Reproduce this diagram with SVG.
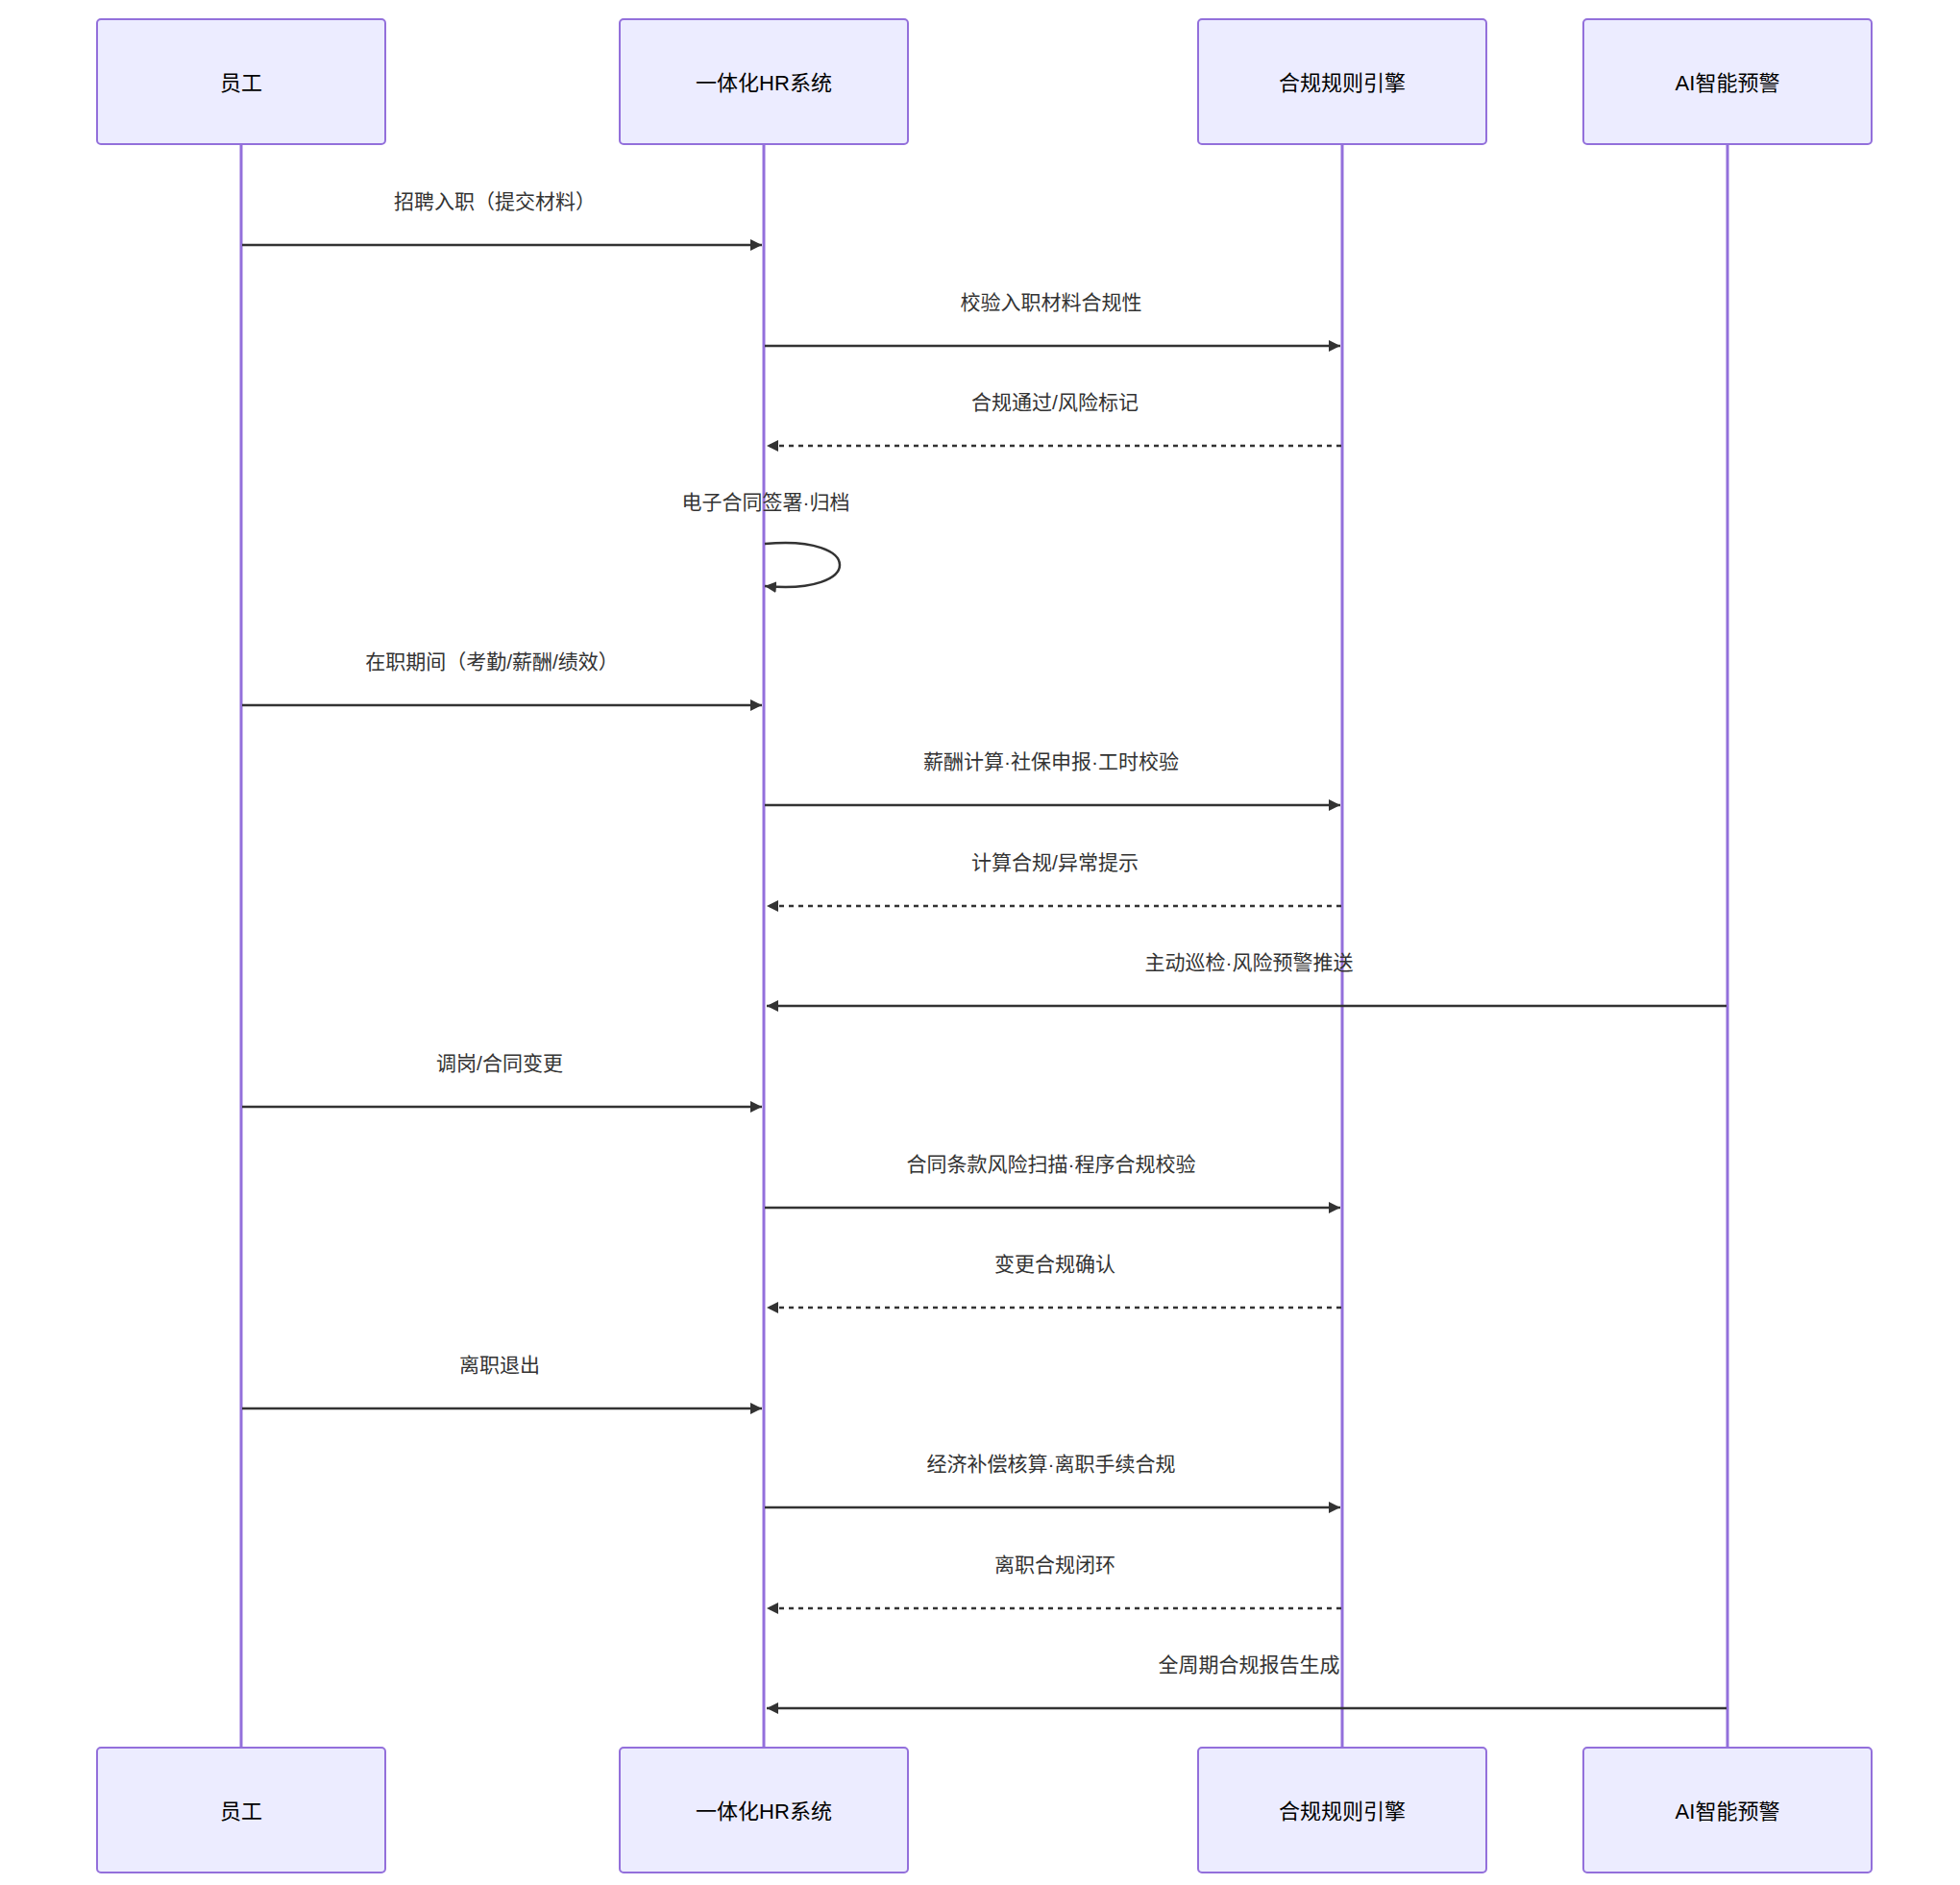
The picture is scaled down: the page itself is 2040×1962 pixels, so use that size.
<svg xmlns="http://www.w3.org/2000/svg" width="2040" height="1962" viewBox="0 0 2040 1962">
<style>
.box{fill:#ECECFF;stroke:#9370DB;stroke-width:2}
.life{stroke:#9370DB;stroke-width:3}
.t{font-family:"Liberation Sans","Noto Sans CJK SC",sans-serif;font-size:21px;fill:#333;text-anchor:middle}
.a{font-size:22px;fill:#000}
.m{stroke:#333;stroke-width:2.5;fill:none}
.d{stroke-dasharray:5,5}
</style>
<defs>
<marker id="ah" viewBox="0 0 12 12" refX="12" refY="6" markerWidth="12" markerHeight="12" markerUnits="userSpaceOnUse" orient="auto"><path d="M0,0L12,6L0,12z" fill="#333"/></marker>
</defs>
<g id="lifelines">
<line class="life" x1="251" y1="150" x2="251" y2="1819"/>
<line class="life" x1="795" y1="150" x2="795" y2="1819"/>
<line class="life" x1="1397" y1="150" x2="1397" y2="1819"/>
<line class="life" x1="1798" y1="150" x2="1798" y2="1819"/>
</g>
<g id="a1"><rect class="box" x="101" y="20" width="300" height="130" rx="4"/><text class="t a" x="251" y="94">员工</text></g>
<g id="a2"><rect class="box" x="645" y="20" width="300" height="130" rx="4"/><text class="t a" x="795" y="94">一体化HR系统</text></g>
<g id="a3"><rect class="box" x="1247" y="20" width="300" height="130" rx="4"/><text class="t a" x="1397" y="94">合规规则引擎</text></g>
<g id="a4"><rect class="box" x="1648" y="20" width="300" height="130" rx="4"/><text class="t a" x="1798" y="94">AI智能预警</text></g>
<g id="b1"><rect class="box" x="101" y="1819" width="300" height="130" rx="4"/><text class="t a" x="251" y="1893">员工</text></g>
<g id="b2"><rect class="box" x="645" y="1819" width="300" height="130" rx="4"/><text class="t a" x="795" y="1893">一体化HR系统</text></g>
<g id="b3"><rect class="box" x="1247" y="1819" width="300" height="130" rx="4"/><text class="t a" x="1397" y="1893">合规规则引擎</text></g>
<g id="b4"><rect class="box" x="1648" y="1819" width="300" height="130" rx="4"/><text class="t a" x="1798" y="1893">AI智能预警</text></g>
<g id="connectors">
<line class="m" x1="252" y1="255" x2="793" y2="255" marker-end="url(#ah)"/>
<line class="m" x1="796" y1="360" x2="1395" y2="360" marker-end="url(#ah)"/>
<line class="m d" x1="1396" y1="464" x2="798" y2="464" marker-end="url(#ah)"/>
<path class="m" d="M796,566 C900,556 900,620 796,610" marker-end="url(#ah)"/>
<line class="m" x1="252" y1="734" x2="793" y2="734" marker-end="url(#ah)"/>
<line class="m" x1="796" y1="838" x2="1395" y2="838" marker-end="url(#ah)"/>
<line class="m d" x1="1396" y1="943" x2="798" y2="943" marker-end="url(#ah)"/>
<line class="m" x1="1797" y1="1047" x2="798" y2="1047" marker-end="url(#ah)"/>
<line class="m" x1="252" y1="1152" x2="793" y2="1152" marker-end="url(#ah)"/>
<line class="m" x1="796" y1="1257" x2="1395" y2="1257" marker-end="url(#ah)"/>
<line class="m d" x1="1396" y1="1361" x2="798" y2="1361" marker-end="url(#ah)"/>
<line class="m" x1="252" y1="1466" x2="793" y2="1466" marker-end="url(#ah)"/>
<line class="m" x1="796" y1="1569" x2="1395" y2="1569" marker-end="url(#ah)"/>
<line class="m d" x1="1396" y1="1674" x2="798" y2="1674" marker-end="url(#ah)"/>
<line class="m" x1="1797" y1="1778" x2="798" y2="1778" marker-end="url(#ah)"/>
</g>
<g id="labels">
<text class="t" x="515" y="217">招聘入职（提交材料）</text>
<text class="t" x="1094" y="322">校验入职材料合规性</text>
<text class="t" x="1098" y="426">合规通过/风险标记</text>
<text class="t" x="797" y="530">电子合同签署·归档</text>
<text class="t" x="512" y="696">在职期间（考勤/薪酬/绩效）</text>
<text class="t" x="1094" y="800">薪酬计算·社保申报·工时校验</text>
<text class="t" x="1098" y="905">计算合规/异常提示</text>
<text class="t" x="1300" y="1009">主动巡检·风险预警推送</text>
<text class="t" x="520" y="1114">调岗/合同变更</text>
<text class="t" x="1094" y="1219">合同条款风险扫描·程序合规校验</text>
<text class="t" x="1098" y="1323">变更合规确认</text>
<text class="t" x="520" y="1428">离职退出</text>
<text class="t" x="1094" y="1531">经济补偿核算·离职手续合规</text>
<text class="t" x="1098" y="1636">离职合规闭环</text>
<text class="t" x="1300" y="1740">全周期合规报告生成</text>
</g>
</svg>
